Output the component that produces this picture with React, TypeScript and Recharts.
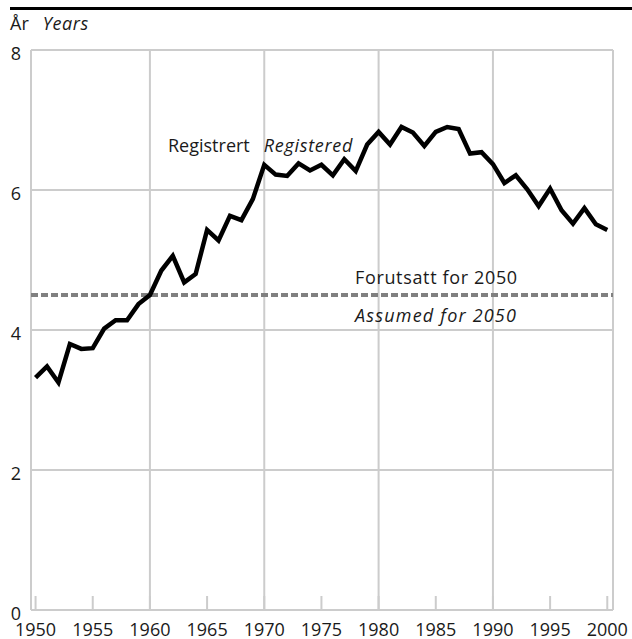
import { LineChart, Line, XAxis, YAxis, ReferenceLine } from "recharts";

const years = [
  1950, 1951, 1952, 1953, 1954, 1955, 1956, 1957, 1958, 1959,
  1960, 1961, 1962, 1963, 1964, 1965, 1966, 1967, 1968, 1969,
  1970, 1971, 1972, 1973, 1974, 1975, 1976, 1977, 1978, 1979,
  1980, 1981, 1982, 1983, 1984, 1985, 1986, 1987, 1988, 1989,
  1990, 1991, 1992, 1993, 1994, 1995, 1996, 1997, 1998, 1999, 2000,
];

const registered = [
  3.32, 3.48, 3.25, 3.8, 3.73, 3.74, 4.02, 4.14, 4.14, 4.37,
  4.5, 4.85, 5.06, 4.68, 4.8, 5.43, 5.28, 5.63, 5.57, 5.87,
  6.36, 6.22, 6.2, 6.38, 6.28, 6.36, 6.21, 6.44, 6.27, 6.65,
  6.83, 6.65, 6.9, 6.82, 6.63, 6.83, 6.9, 6.87, 6.52, 6.54,
  6.37, 6.1, 6.21, 6.01, 5.77, 6.02, 5.71, 5.52, 5.74, 5.51, 5.43,
];

const assumed2050 = 4.5;

const xTicks = [1950, 1955, 1960, 1965, 1970, 1975, 1980, 1985, 1990, 1995, 2000];
const majorYears = [1960, 1970, 1980, 1990];
const yTicks = [0, 2, 4, 6, 8];
const yGrid = [2, 4, 6];

const data = years.map((year, i) => ({ year, value: registered[i] }));

const FONT = "'Open Sans', sans-serif";
const GRID = "#cccccc";
const TEXT = "#1a1a1a";
const PLOT_BOTTOM = 610;
const X_DOMAIN: [number, number] = [1949.6, 2000.5];

function XTick(props: any) {
  const { x, payload } = props;
  return (
    <g>
      <line x1={x} x2={x} y1={PLOT_BOTTOM} y2={PLOT_BOTTOM - 14} stroke={GRID} strokeWidth={2} />
      <text x={x} y={PLOT_BOTTOM + 25.5} textAnchor="middle" fill={TEXT} fontSize={18} fontFamily={FONT}>
        {payload.value}
      </text>
    </g>
  );
}

function YTick(props: any) {
  const { y, payload } = props;
  return (
    <text x={21} y={y + 10} textAnchor="end" fill={TEXT} fontSize={18} fontFamily={FONT}>
      {payload.value}
    </text>
  );
}

export default function App() {
  return (
    <div style={{ position: "absolute", left: 0, top: 0, width: 632, height: 639, background: "#fff" }}>
      <LineChart width={632} height={639} data={data} margin={{ top: 50, right: 19, left: 0, bottom: 0 }}>
        {majorYears.map((yr) => (
          <ReferenceLine key={yr} x={yr} stroke={GRID} strokeWidth={2} />
        ))}
        {yGrid.map((v) => (
          <ReferenceLine key={v} y={v} stroke={GRID} strokeWidth={2} />
        ))}
        <ReferenceLine x={X_DOMAIN[0]} stroke={GRID} strokeWidth={2} />
        <ReferenceLine x={X_DOMAIN[1]} stroke={GRID} strokeWidth={2} />
        <ReferenceLine y={8} stroke={GRID} strokeWidth={2} />
        <ReferenceLine y={0} stroke={GRID} strokeWidth={2} />
        <ReferenceLine y={assumed2050} stroke="#808080" strokeWidth={4} strokeDasharray="7 3" />
        <XAxis
          dataKey="year"
          type="number"
          domain={X_DOMAIN}
          ticks={xTicks}
          height={29}
          axisLine={false}
          tickLine={false}
          tick={<XTick />}
          interval={0}
          allowDataOverflow
        />
        <YAxis
          domain={[0, 8]}
          ticks={yTicks}
          width={31}
          axisLine={false}
          tickLine={false}
          tick={<YTick />}
          interval={0}
        />
        <Line
          type="linear"
          dataKey="value"
          stroke="#000"
          strokeWidth={4.5}
          dot={false}
          activeDot={false}
          isAnimationActive={false}
        />
      </LineChart>
      <svg
        width={632}
        height={639}
        style={{ position: "absolute", left: 0, top: 0, pointerEvents: "none" }}
      >
        <line x1={10} x2={632} y1={8.5} y2={8.5} stroke="#000" strokeWidth={3} />
        <text x={10} y={30} fontSize={18} fontFamily={FONT} fill={TEXT}>
          År
          <tspan dx={14} fontStyle="italic" letterSpacing={0.6}>Years</tspan>
        </text>
        <text x={168} y={152} fontSize={18} fontFamily={FONT} fill={TEXT}>
          Registrert
          <tspan dx={14} fontStyle="italic" letterSpacing={0.7}>Registered</tspan>
        </text>
        <text x={355} y={284} fontSize={18} fontFamily={FONT} fill={TEXT} letterSpacing={0.65}>
          Forutsatt for 2050
        </text>
        <text x={355} y={322} fontSize={18} fontFamily={FONT} fill={TEXT} fontStyle="italic" letterSpacing={1.2}>
          Assumed for 2050
        </text>
      </svg>
    </div>
  );
}
